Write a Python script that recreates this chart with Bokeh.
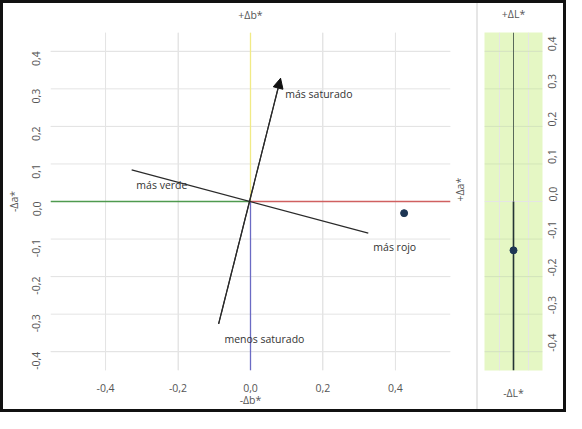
import math
from bokeh.plotting import figure
from bokeh.layouts import row
from bokeh.models import FixedTicker, LinearAxis, Range1d, Arrow, NormalHead, Div
from bokeh.core.properties import value
from bokeh.embed import file_html
from bokeh.resources import INLINE

# ---- data ----
x_ticks = [-0.4, -0.2, 0.0, 0.2, 0.4]
x_tick_labels = ["-0,4", "-0,2", "0,0", "0,2", "0,4"]
y_ticks = [-0.4, -0.3, -0.2, -0.1, 0.0, 0.1, 0.2, 0.3, 0.4]
y_tick_labels = ["-0,4", "-0,3", "-0,2", "-0,1", "0,0", "0,1", "0,2", "0,3", "0,4"]

# chroma direction line (menos saturado -> más saturado)
sat_da = [-0.088, 0.083]
sat_db = [-0.326, 0.328]
# hue direction line (más verde -> más rojo)
hue_da = [-0.328, 0.325]
hue_db = [0.084, -0.084]

# sample
sample_da = [0.424]
sample_db = [-0.031]
sample_dL = [-0.13]

label_texts = ["más saturado", "más verde", "más rojo", "menos saturado"]
label_da = [0.096, -0.315, 0.339, -0.072]
label_db = [0.287, 0.043, -0.122, -0.366]

FONT = "Open Sans"
FS = "10.5px"
TICK_COLOR = "#555555"
GRID_COLOR = "#e4e4e4"

H = 406
TOP = 28
BOTTOM = 38


def style_axis(ax):
    ax.axis_line_color = None
    ax.major_tick_line_color = None
    ax.minor_tick_line_color = None
    ax.major_label_text_font = FONT
    ax.major_label_text_font_size = FS
    ax.major_label_text_color = TICK_COLOR
    ax.axis_label_text_font = FONT
    ax.axis_label_text_font_size = FS
    ax.axis_label_text_font_style = "normal"
    ax.axis_label_text_color = TICK_COLOR


# ---- main a*/b* plot ----
p = figure(width=473, height=H, x_range=Range1d(-0.552, 0.552), y_range=Range1d(-0.45, 0.45),
           output_backend="svg", toolbar_location=None, x_axis_location=None, y_axis_location=None,
           min_border_left=44, min_border_right=26, min_border_top=TOP, min_border_bottom=BOTTOM)
p.outline_line_color = None

xb = LinearAxis(ticker=FixedTicker(ticks=x_ticks),
                major_label_overrides=dict(zip(x_ticks, x_tick_labels)),
                axis_label="-Δb*")
yl = LinearAxis(ticker=FixedTicker(ticks=y_ticks),
                major_label_overrides=dict(zip(y_ticks, y_tick_labels)),
                axis_label="-Δa*")
xa = LinearAxis(ticker=FixedTicker(ticks=[0.0]), major_label_overrides={0.0: "+Δb*"})
yr = LinearAxis(ticker=FixedTicker(ticks=[0.0]), major_label_overrides={0.0: "+Δa*"})
for ax in (xb, yl, xa, yr):
    style_axis(ax)

xb.major_label_standoff = 7
xb.axis_label_standoff = -2
yl.major_label_orientation = math.pi / 2
yl.major_label_standoff = 8
yl.axis_label_standoff = 5
xa.major_label_standoff = 5
yr.major_label_orientation = math.pi / 2
yr.major_label_standoff = 3

p.add_layout(xb, "below")
p.add_layout(yl, "left")
p.add_layout(xa, "above")
p.add_layout(yr, "right")

# grid lines
gx = [t for t in x_ticks if t != 0]
gy = [t for t in y_ticks if t != 0]
p.segment(x0=gx, y0=-0.45, x1=gx, y1=0.45, line_color=GRID_COLOR, line_width=1)
p.segment(x0=-0.552, y0=gy, x1=0.552, y1=gy, line_color=GRID_COLOR, line_width=1)

# colored half-axes
p.segment(x0=[0, 0], y0=[0, 0], x1=[0, 0], y1=[0.45, -0.45],
          line_color=["#f1ea86", "#6b6bc4"], line_width=1.3)
p.segment(x0=[0, 0], y0=[0, 0], x1=[-0.552, 0.552], y1=[0, 0],
          line_color=["#4f9a4f", "#d06060"], line_width=1.3)

# direction lines
p.line(hue_da, hue_db, line_color="#2a2a2a", line_width=1.2)
p.line(sat_da, sat_db, line_color="#2a2a2a", line_width=1.2)
p.add_layout(Arrow(end=NormalHead(size=10, fill_color="#111111", line_color="#111111"),
                   x_start=sat_da[0], y_start=sat_db[0], x_end=sat_da[1], y_end=sat_db[1],
                   line_color="#2a2a2a", line_width=1.2))

p.text(x=label_da, y=label_db, text=label_texts, text_font=value(FONT), text_font_size=FS,
       text_color="#333333", text_baseline="middle", text_align="left")

p.scatter(sample_da, sample_db, size=7, fill_color="#1d3654", line_color="#1d3654")

# ---- separator ----
sep = Div(width=2, height=H, margin=0, styles={"background-color": "#e6e6e6"})

# ---- L* plot ----
q = figure(width=85, height=H, x_range=Range1d(-1, 1), y_range=Range1d(-0.45, 0.45),
           output_backend="svg", toolbar_location=None, x_axis_location=None, y_axis_location=None,
           min_border_left=6, min_border_right=19, min_border_top=TOP, min_border_bottom=BOTTOM)
q.outline_line_color = None
q.background_fill_color = "#e5f7c4"

qy = LinearAxis(ticker=FixedTicker(ticks=y_ticks),
                major_label_overrides=dict(zip(y_ticks, y_tick_labels)))
qb = LinearAxis(ticker=FixedTicker(ticks=[0.0]), major_label_overrides={0.0: "-ΔL*"})
qa = LinearAxis(ticker=FixedTicker(ticks=[0.0]), major_label_overrides={0.0: "+ΔL*"})
for ax in (qy, qb, qa):
    style_axis(ax)
qy.major_label_orientation = math.pi / 2
qy.major_label_standoff = 4
qb.major_label_standoff = 9
qa.major_label_standoff = 6
q.add_layout(qy, "right")
q.add_layout(qb, "below")
q.add_layout(qa, "above")

q.segment(x0=-1, y0=gy, x1=1, y1=gy, line_color="#d3e6b8", line_width=1)
q.segment(x0=[0], y0=[0], x1=[0], y1=[0.45], line_color="#5a6a5a", line_width=1)
q.segment(x0=[0], y0=[0], x1=[0], y1=[-0.45], line_color="#243434", line_width=1.6)
q.scatter([0.0], sample_dL, size=7, fill_color="#1d3654", line_color="#1d3654")

layout = row(p, sep, q, styles={"border": "3px solid #111111"})

open("out.html", "w").write(file_html(layout, INLINE))
